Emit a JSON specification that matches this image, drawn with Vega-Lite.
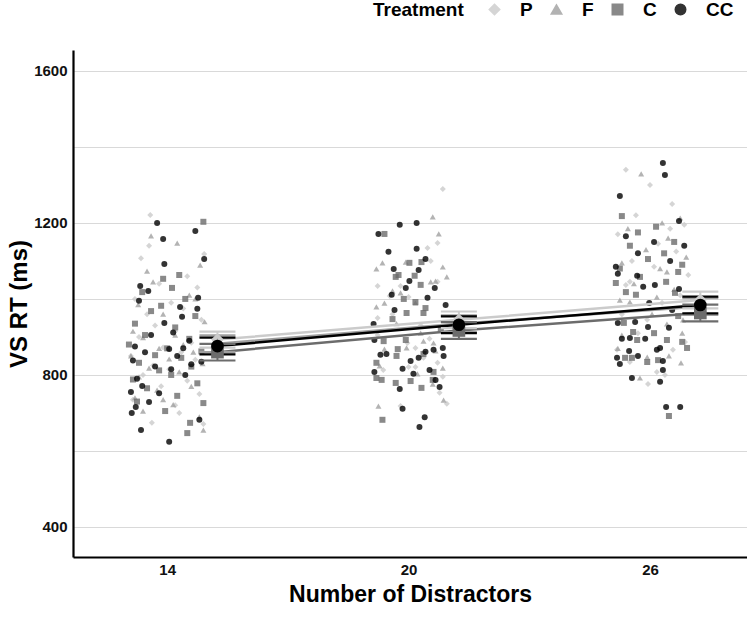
{
  "$schema": "https://vega.github.io/schema/vega-lite/v6.json",
  "width": 674,
  "height": 507,
  "autosize": {"type": "none"},
  "padding": {"left": 73, "top": 50, "right": 0, "bottom": 73},
  "background": "white",
  "config": {
    "view": {"stroke": null},
    "font": "Liberation Sans",
    "axis": {"labelFont": "Liberation Sans", "labelFontWeight": "bold", "labelColor": "#111111", "titleFont": "Liberation Sans", "titleFontWeight": "bold", "titleColor": "#000000", "domainColor": "#000000", "domainWidth": 2.2, "ticks": false, "gridColor": "#d9d9d9", "gridWidth": 1},
    "legend": {"labelFont": "Liberation Sans", "titleFont": "Liberation Sans"}
  },
  "datasets": {
    "pts": [
      {"t":"P","x":13.58,"y":1221},{"t":"P","x":13.55,"y":1140},{"t":"P","x":13.35,"y":1107},{"t":"P","x":14.92,"y":1118},{"t":"P","x":14.5,"y":1060},{"t":"P","x":13.8,"y":1040},{"t":"P","x":14.75,"y":1030},{"t":"P","x":13.2,"y":1000},{"t":"P","x":14.1,"y":990},{"t":"P","x":14.4,"y":975},{"t":"P","x":13.5,"y":960},{"t":"P","x":14.85,"y":945},{"t":"P","x":13.7,"y":930},{"t":"P","x":14.2,"y":915},{"t":"P","x":13.3,"y":900},{"t":"P","x":14.6,"y":885},{"t":"P","x":13.9,"y":872},{"t":"P","x":14.35,"y":860},{"t":"P","x":13.1,"y":850},{"t":"P","x":14.7,"y":840},{"t":"P","x":13.65,"y":825},{"t":"P","x":14.05,"y":815},{"t":"P","x":13.4,"y":800},{"t":"P","x":14.5,"y":785},{"t":"P","x":13.85,"y":770},{"t":"P","x":14.8,"y":750},{"t":"P","x":13.15,"y":735},{"t":"P","x":14.3,"y":700},{"t":"P","x":13.62,"y":674},{"t":"P","x":14.9,"y":671},{"t":"P","x":14.2,"y":720},
      {"t":"P","x":20.85,"y":1289},{"t":"P","x":20.72,"y":1147},{"t":"P","x":20.47,"y":1134},{"t":"P","x":19.23,"y":1034},{"t":"P","x":19.8,"y":1034},{"t":"P","x":20.72,"y":1045},{"t":"P","x":20.55,"y":1100},{"t":"P","x":19.53,"y":1008},{"t":"P","x":20.0,"y":1005},{"t":"P","x":19.23,"y":950},{"t":"P","x":19.23,"y":905},{"t":"P","x":19.37,"y":813},{"t":"P","x":19.97,"y":884},{"t":"P","x":20.17,"y":871},{"t":"P","x":20.37,"y":845},{"t":"P","x":20.0,"y":821},{"t":"P","x":20.17,"y":821},{"t":"P","x":20.72,"y":832},{"t":"P","x":19.8,"y":718},{"t":"P","x":20.77,"y":753},{"t":"P","x":20.95,"y":724},{"t":"P","x":20.85,"y":795},{"t":"P","x":20.52,"y":895},{"t":"P","x":19.6,"y":960},{"t":"P","x":20.3,"y":930},
      {"t":"P","x":25.4,"y":1037},{"t":"P","x":25.5,"y":1045},{"t":"P","x":26.95,"y":1063},{"t":"P","x":25.18,"y":866},{"t":"P","x":25.95,"y":776},{"t":"P","x":26.57,"y":866},{"t":"P","x":26.17,"y":808},{"t":"P","x":26.37,"y":800},{"t":"P","x":25.5,"y":834},{"t":"P","x":26.87,"y":887},{"t":"P","x":25.93,"y":945},{"t":"P","x":25.4,"y":1340},{"t":"P","x":26.0,"y":1300},{"t":"P","x":26.55,"y":1250},{"t":"P","x":25.65,"y":1220},{"t":"P","x":26.85,"y":1195},{"t":"P","x":25.2,"y":1170},{"t":"P","x":26.2,"y":1145},{"t":"P","x":26.65,"y":1125},{"t":"P","x":25.55,"y":1100},{"t":"P","x":26.1,"y":1085},{"t":"P","x":26.3,"y":990},{"t":"P","x":25.7,"y":910},{"t":"P","x":26.75,"y":1010},{"t":"P","x":25.3,"y":960},{"t":"P","x":26.5,"y":1185},
      {"t":"F","x":13.6,"y":1166},{"t":"F","x":14.25,"y":1147},{"t":"F","x":13.5,"y":1073},{"t":"F","x":14.82,"y":1089},{"t":"F","x":13.65,"y":1045},{"t":"F","x":14.55,"y":1010},{"t":"F","x":14.7,"y":1000},{"t":"F","x":13.28,"y":985},{"t":"F","x":13.9,"y":960},{"t":"F","x":14.93,"y":940},{"t":"F","x":13.15,"y":915},{"t":"F","x":14.2,"y":905},{"t":"F","x":13.4,"y":898},{"t":"F","x":14.4,"y":880},{"t":"F","x":13.8,"y":870},{"t":"F","x":14.65,"y":860},{"t":"F","x":13.1,"y":850},{"t":"F","x":14.05,"y":842},{"t":"F","x":14.88,"y":830},{"t":"F","x":13.55,"y":818},{"t":"F","x":14.3,"y":808},{"t":"F","x":13.3,"y":795},{"t":"F","x":14.6,"y":770},{"t":"F","x":13.75,"y":760},{"t":"F","x":13.2,"y":740},{"t":"F","x":14.15,"y":722},{"t":"F","x":13.4,"y":705},{"t":"F","x":14.8,"y":690},{"t":"F","x":14.9,"y":655},{"t":"F","x":13.9,"y":735},
      {"t":"F","x":20.6,"y":1216},{"t":"F","x":20.75,"y":1171},{"t":"F","x":19.2,"y":1079},{"t":"F","x":19.35,"y":1095},{"t":"F","x":19.93,"y":1097},{"t":"F","x":20.85,"y":1084},{"t":"F","x":20.95,"y":1058},{"t":"F","x":20.67,"y":1047},{"t":"F","x":19.6,"y":1021},{"t":"F","x":19.8,"y":1016},{"t":"F","x":19.2,"y":979},{"t":"F","x":19.4,"y":989},{"t":"F","x":20.17,"y":989},{"t":"F","x":20.55,"y":1045},{"t":"F","x":19.4,"y":868},{"t":"F","x":19.95,"y":871},{"t":"F","x":20.37,"y":889},{"t":"F","x":20.62,"y":884},{"t":"F","x":19.28,"y":824},{"t":"F","x":20.85,"y":818},{"t":"F","x":20.22,"y":803},{"t":"F","x":20.6,"y":776},{"t":"F","x":19.25,"y":718},{"t":"F","x":20.87,"y":734},{"t":"F","x":20.67,"y":863},{"t":"F","x":19.7,"y":935},{"t":"F","x":20.3,"y":910},
      {"t":"F","x":25.25,"y":997},{"t":"F","x":25.5,"y":992},{"t":"F","x":26.42,"y":1071},{"t":"F","x":26.17,"y":1005},{"t":"F","x":25.3,"y":905},{"t":"F","x":25.93,"y":847},{"t":"F","x":26.42,"y":934},{"t":"F","x":26.8,"y":910},{"t":"F","x":26.82,"y":945},{"t":"F","x":26.77,"y":832},{"t":"F","x":25.75,"y":792},{"t":"F","x":26.47,"y":850},{"t":"F","x":25.78,"y":1329},{"t":"F","x":26.75,"y":1213},{"t":"F","x":26.3,"y":1200},{"t":"F","x":25.45,"y":1185},{"t":"F","x":26.45,"y":1160},{"t":"F","x":25.9,"y":1130},{"t":"F","x":26.9,"y":1110},{"t":"F","x":25.3,"y":1095},{"t":"F","x":26.25,"y":1080},{"t":"F","x":25.6,"y":1040},{"t":"F","x":26.05,"y":960},{"t":"F","x":25.2,"y":870},{"t":"F","x":26.6,"y":1025},
      {"t":"C","x":14.9,"y":1203},{"t":"C","x":13.9,"y":1053},{"t":"C","x":14.3,"y":1063},{"t":"C","x":14.12,"y":1029},{"t":"C","x":13.85,"y":982},{"t":"C","x":13.38,"y":1018},{"t":"C","x":14.45,"y":1000},{"t":"C","x":13.6,"y":968},{"t":"C","x":14.7,"y":955},{"t":"C","x":13.2,"y":935},{"t":"C","x":14.2,"y":925},{"t":"C","x":13.45,"y":905},{"t":"C","x":14.55,"y":895},{"t":"C","x":13.05,"y":880},{"t":"C","x":14.0,"y":870},{"t":"C","x":14.85,"y":862},{"t":"C","x":13.7,"y":852},{"t":"C","x":14.35,"y":845},{"t":"C","x":13.3,"y":832},{"t":"C","x":14.6,"y":822},{"t":"C","x":13.8,"y":812},{"t":"C","x":14.1,"y":800},{"t":"C","x":13.15,"y":788},{"t":"C","x":14.75,"y":778},{"t":"C","x":13.5,"y":765},{"t":"C","x":14.25,"y":745},{"t":"C","x":13.95,"y":705},{"t":"C","x":14.5,"y":647},{"t":"C","x":14.57,"y":674},{"t":"C","x":14.9,"y":726},{"t":"C","x":13.25,"y":730},
      {"t":"C","x":19.4,"y":1171},{"t":"C","x":20.02,"y":1095},{"t":"C","x":19.75,"y":1063},{"t":"C","x":20.15,"y":1061},{"t":"C","x":19.68,"y":1058},{"t":"C","x":20.32,"y":1097},{"t":"C","x":20.3,"y":1037},{"t":"C","x":19.88,"y":1000},{"t":"C","x":20.17,"y":992},{"t":"C","x":19.95,"y":963},{"t":"C","x":20.37,"y":963},{"t":"C","x":20.42,"y":976},{"t":"C","x":19.6,"y":947},{"t":"C","x":19.38,"y":889},{"t":"C","x":19.93,"y":892},{"t":"C","x":19.73,"y":868},{"t":"C","x":19.7,"y":850},{"t":"C","x":20.37,"y":855},{"t":"C","x":19.2,"y":832},{"t":"C","x":19.2,"y":792},{"t":"C","x":19.33,"y":787},{"t":"C","x":20.05,"y":784},{"t":"C","x":19.68,"y":779},{"t":"C","x":20.32,"y":766},{"t":"C","x":20.6,"y":787},{"t":"C","x":19.35,"y":682},{"t":"C","x":20.62,"y":808},{"t":"C","x":20.8,"y":920},
      {"t":"C","x":25.15,"y":1042},{"t":"C","x":25.4,"y":1018},{"t":"C","x":25.65,"y":1011},{"t":"C","x":25.75,"y":1058},{"t":"C","x":26.4,"y":1045},{"t":"C","x":26.62,"y":1016},{"t":"C","x":26.7,"y":1071},{"t":"C","x":25.35,"y":937},{"t":"C","x":25.58,"y":913},{"t":"C","x":25.68,"y":892},{"t":"C","x":26.1,"y":910},{"t":"C","x":26.42,"y":892},{"t":"C","x":26.8,"y":887},{"t":"C","x":26.92,"y":871},{"t":"C","x":25.38,"y":845},{"t":"C","x":25.55,"y":845},{"t":"C","x":25.93,"y":834},{"t":"C","x":26.2,"y":839},{"t":"C","x":26.7,"y":955},{"t":"C","x":26.47,"y":692},{"t":"C","x":25.3,"y":1218},{"t":"C","x":26.15,"y":1190},{"t":"C","x":25.7,"y":1175},{"t":"C","x":26.6,"y":1150},{"t":"C","x":25.5,"y":1140},{"t":"C","x":26.35,"y":1120},{"t":"C","x":25.95,"y":1105},{"t":"C","x":26.8,"y":1090},{"t":"C","x":25.25,"y":1080},
      {"t":"CC","x":13.75,"y":1200},{"t":"CC","x":14.7,"y":1179},{"t":"CC","x":13.9,"y":1158},{"t":"CC","x":13.93,"y":1092},{"t":"CC","x":14.92,"y":1105},{"t":"CC","x":13.33,"y":1034},{"t":"CC","x":13.53,"y":1021},{"t":"CC","x":14.77,"y":1003},{"t":"CC","x":13.3,"y":995},{"t":"CC","x":14.32,"y":979},{"t":"CC","x":14.75,"y":974},{"t":"CC","x":14.37,"y":953},{"t":"CC","x":13.93,"y":937},{"t":"CC","x":14.15,"y":912},{"t":"CC","x":13.6,"y":905},{"t":"CC","x":14.55,"y":890},{"t":"CC","x":13.2,"y":875},{"t":"CC","x":14.05,"y":868},{"t":"CC","x":13.45,"y":860},{"t":"CC","x":14.25,"y":850},{"t":"CC","x":13.15,"y":838},{"t":"CC","x":14.6,"y":828},{"t":"CC","x":13.7,"y":822},{"t":"CC","x":14.1,"y":815},{"t":"CC","x":13.25,"y":790},{"t":"CC","x":14.45,"y":800},{"t":"CC","x":13.38,"y":771},{"t":"CC","x":13.1,"y":755},{"t":"CC","x":13.8,"y":752},{"t":"CC","x":13.22,"y":716},{"t":"CC","x":13.55,"y":729},{"t":"CC","x":13.12,"y":700},{"t":"CC","x":14.8,"y":682},{"t":"CC","x":13.35,"y":655},{"t":"CC","x":14.05,"y":624},{"t":"CC","x":14.85,"y":835},{"t":"CC","x":14.4,"y":870},
      {"t":"CC","x":19.78,"y":1195},{"t":"CC","x":20.2,"y":1200},{"t":"CC","x":19.25,"y":1171},{"t":"CC","x":19.5,"y":1124},{"t":"CC","x":20.2,"y":1132},{"t":"CC","x":19.63,"y":1079},{"t":"CC","x":20.25,"y":1076},{"t":"CC","x":20.42,"y":1105},{"t":"CC","x":20.02,"y":1047},{"t":"CC","x":20.65,"y":1029},{"t":"CC","x":19.93,"y":1029},{"t":"CC","x":19.58,"y":1011},{"t":"CC","x":20.47,"y":1003},{"t":"CC","x":20.92,"y":984},{"t":"CC","x":19.65,"y":971},{"t":"CC","x":19.13,"y":934},{"t":"CC","x":19.15,"y":892},{"t":"CC","x":19.3,"y":853},{"t":"CC","x":19.45,"y":855},{"t":"CC","x":20.62,"y":866},{"t":"CC","x":20.85,"y":871},{"t":"CC","x":20.87,"y":850},{"t":"CC","x":20.25,"y":845},{"t":"CC","x":20.05,"y":837},{"t":"CC","x":20.42,"y":861},{"t":"CC","x":19.85,"y":816},{"t":"CC","x":20.12,"y":803},{"t":"CC","x":20.52,"y":813},{"t":"CC","x":19.15,"y":808},{"t":"CC","x":20.77,"y":768},{"t":"CC","x":19.78,"y":763},{"t":"CC","x":19.85,"y":711},{"t":"CC","x":20.4,"y":689},{"t":"CC","x":20.27,"y":663},{"t":"CC","x":20.67,"y":787},
      {"t":"CC","x":25.2,"y":1066},{"t":"CC","x":25.68,"y":1061},{"t":"CC","x":25.83,"y":1032},{"t":"CC","x":26.12,"y":1037},{"t":"CC","x":26.72,"y":1026},{"t":"CC","x":25.98,"y":989},{"t":"CC","x":26.55,"y":971},{"t":"CC","x":25.2,"y":937},{"t":"CC","x":25.63,"y":939},{"t":"CC","x":25.95,"y":926},{"t":"CC","x":26.47,"y":924},{"t":"CC","x":25.3,"y":895},{"t":"CC","x":25.5,"y":897},{"t":"CC","x":25.88,"y":895},{"t":"CC","x":26.17,"y":866},{"t":"CC","x":26.25,"y":871},{"t":"CC","x":25.48,"y":863},{"t":"CC","x":25.18,"y":845},{"t":"CC","x":25.7,"y":850},{"t":"CC","x":25.25,"y":829},{"t":"CC","x":26.32,"y":837},{"t":"CC","x":26.32,"y":813},{"t":"CC","x":26.25,"y":782},{"t":"CC","x":25.55,"y":792},{"t":"CC","x":26.4,"y":716},{"t":"CC","x":26.75,"y":716},{"t":"CC","x":26.32,"y":1358},{"t":"CC","x":26.37,"y":1326},{"t":"CC","x":25.25,"y":1271},{"t":"CC","x":26.72,"y":1205},{"t":"CC","x":25.4,"y":1165},{"t":"CC","x":26.1,"y":1150},{"t":"CC","x":26.85,"y":1140},{"t":"CC","x":25.7,"y":1120},{"t":"CC","x":26.5,"y":1100},{"t":"CC","x":25.15,"y":1085}
    ],
    "means": [
      {"t":"P","x":15.25,"m":893,"lo":872,"hi":914},{"t":"P","x":21.25,"m":945,"lo":923,"hi":967},{"t":"P","x":27.25,"m":997,"lo":975,"hi":1019},
      {"t":"F","x":15.25,"m":882,"lo":860,"hi":904},{"t":"F","x":21.25,"m":935,"lo":913,"hi":957},{"t":"F","x":27.25,"m":980,"lo":958,"hi":1002},
      {"t":"C","x":15.25,"m":860,"lo":838,"hi":882},{"t":"C","x":21.25,"m":917,"lo":895,"hi":939},{"t":"C","x":27.25,"m":963,"lo":941,"hi":985},
      {"t":"CC","x":15.25,"m":876,"lo":854,"hi":898},{"t":"CC","x":21.25,"m":932,"lo":910,"hi":954},{"t":"CC","x":27.25,"m":984,"lo":962,"hi":1006}
    ]
  },
  "layer": [
    {
      "data": {"name": "pts"},
      "mark": {"type": "point", "filled": true, "size": 36, "opacity": 0.8, "strokeWidth": 0},
      "encoding": {
        "x": {"field": "x", "type": "quantitative", "scale": {"domain": [11.66, 28.41], "nice": false, "zero": false},
          "axis": {"values": [14, 20, 26], "grid": false, "labelFontSize": 15, "labelPadding": 5, "title": "Number of Distractors", "titleFontSize": 23, "titlePadding": 6}},
        "y": {"field": "y", "type": "quantitative", "scale": {"domain": [321, 1655], "nice": false, "zero": false},
          "axis": {"values": [400, 600, 800, 1000, 1200, 1400, 1600], "labelExpr": "datum.value % 400 === 0 ? datum.label : ''", "format": "d", "labelFontSize": 15, "labelPadding": 6, "title": "VS RT (ms)", "titleFontSize": 24, "titlePadding": 2}},
        "color": {"field": "t", "type": "nominal", "title": "Treatment",
          "scale": {"domain": ["P", "F", "C", "CC"], "range": ["#cbcbcb", "#a0a0a0", "#6c6c6c", "#000000"]},
          "legend": {
            "orient": "none", "legendX": 300, "legendY": -50, "direction": "horizontal", "titleOrient": "left",
            "titleFontSize": 19, "titleFontWeight": "bold", "titleColor": "#000000", "titlePadding": 21, "titleBaseline": "middle",
            "labelFontSize": 19, "labelFontWeight": "bold", "labelColor": "#000000", "labelOffset": 16,
            "symbolSize": 110, "columnPadding": 14, "gridAlign": "none"
          }},
        "shape": {"field": "t", "type": "nominal", "scale": {"domain": ["P", "F", "C", "CC"], "range": ["diamond", "triangle-up", "square", "circle"]}, "legend": null}
      }
    },
    {
      "data": {"name": "means"},
      "mark": {"type": "line", "strokeWidth": 2.5},
      "encoding": {
        "x": {"field": "x", "type": "quantitative"},
        "y": {"field": "m", "type": "quantitative"},
        "color": {"field": "t", "type": "nominal"},
        "order": {"field": "x", "type": "quantitative"}
      }
    },
    {
      "data": {"name": "means"},
      "mark": {"type": "rule", "strokeWidth": 2},
      "encoding": {
        "x": {"field": "x", "type": "quantitative"},
        "y": {"field": "lo", "type": "quantitative"},
        "y2": {"field": "hi"},
        "color": {"field": "t", "type": "nominal"}
      }
    },
    {
      "data": {"name": "means"},
      "mark": {"type": "tick", "orient": "horizontal", "size": 36, "thickness": 2.2, "opacity": 1},
      "encoding": {
        "x": {"field": "x", "type": "quantitative"},
        "y": {"field": "lo", "type": "quantitative"},
        "color": {"field": "t", "type": "nominal"}
      }
    },
    {
      "data": {"name": "means"},
      "mark": {"type": "tick", "orient": "horizontal", "size": 36, "thickness": 2.2, "opacity": 1},
      "encoding": {
        "x": {"field": "x", "type": "quantitative"},
        "y": {"field": "hi", "type": "quantitative"},
        "color": {"field": "t", "type": "nominal"}
      }
    },
    {
      "data": {"name": "means"},
      "mark": {"type": "point", "filled": true, "opacity": 1, "strokeWidth": 0},
      "encoding": {
        "x": {"field": "x", "type": "quantitative"},
        "y": {"field": "m", "type": "quantitative"},
        "color": {"field": "t", "type": "nominal"},
        "shape": {"field": "t", "type": "nominal", "legend": null},
        "size": {"value": 160}
      }
    }
  ]
}
